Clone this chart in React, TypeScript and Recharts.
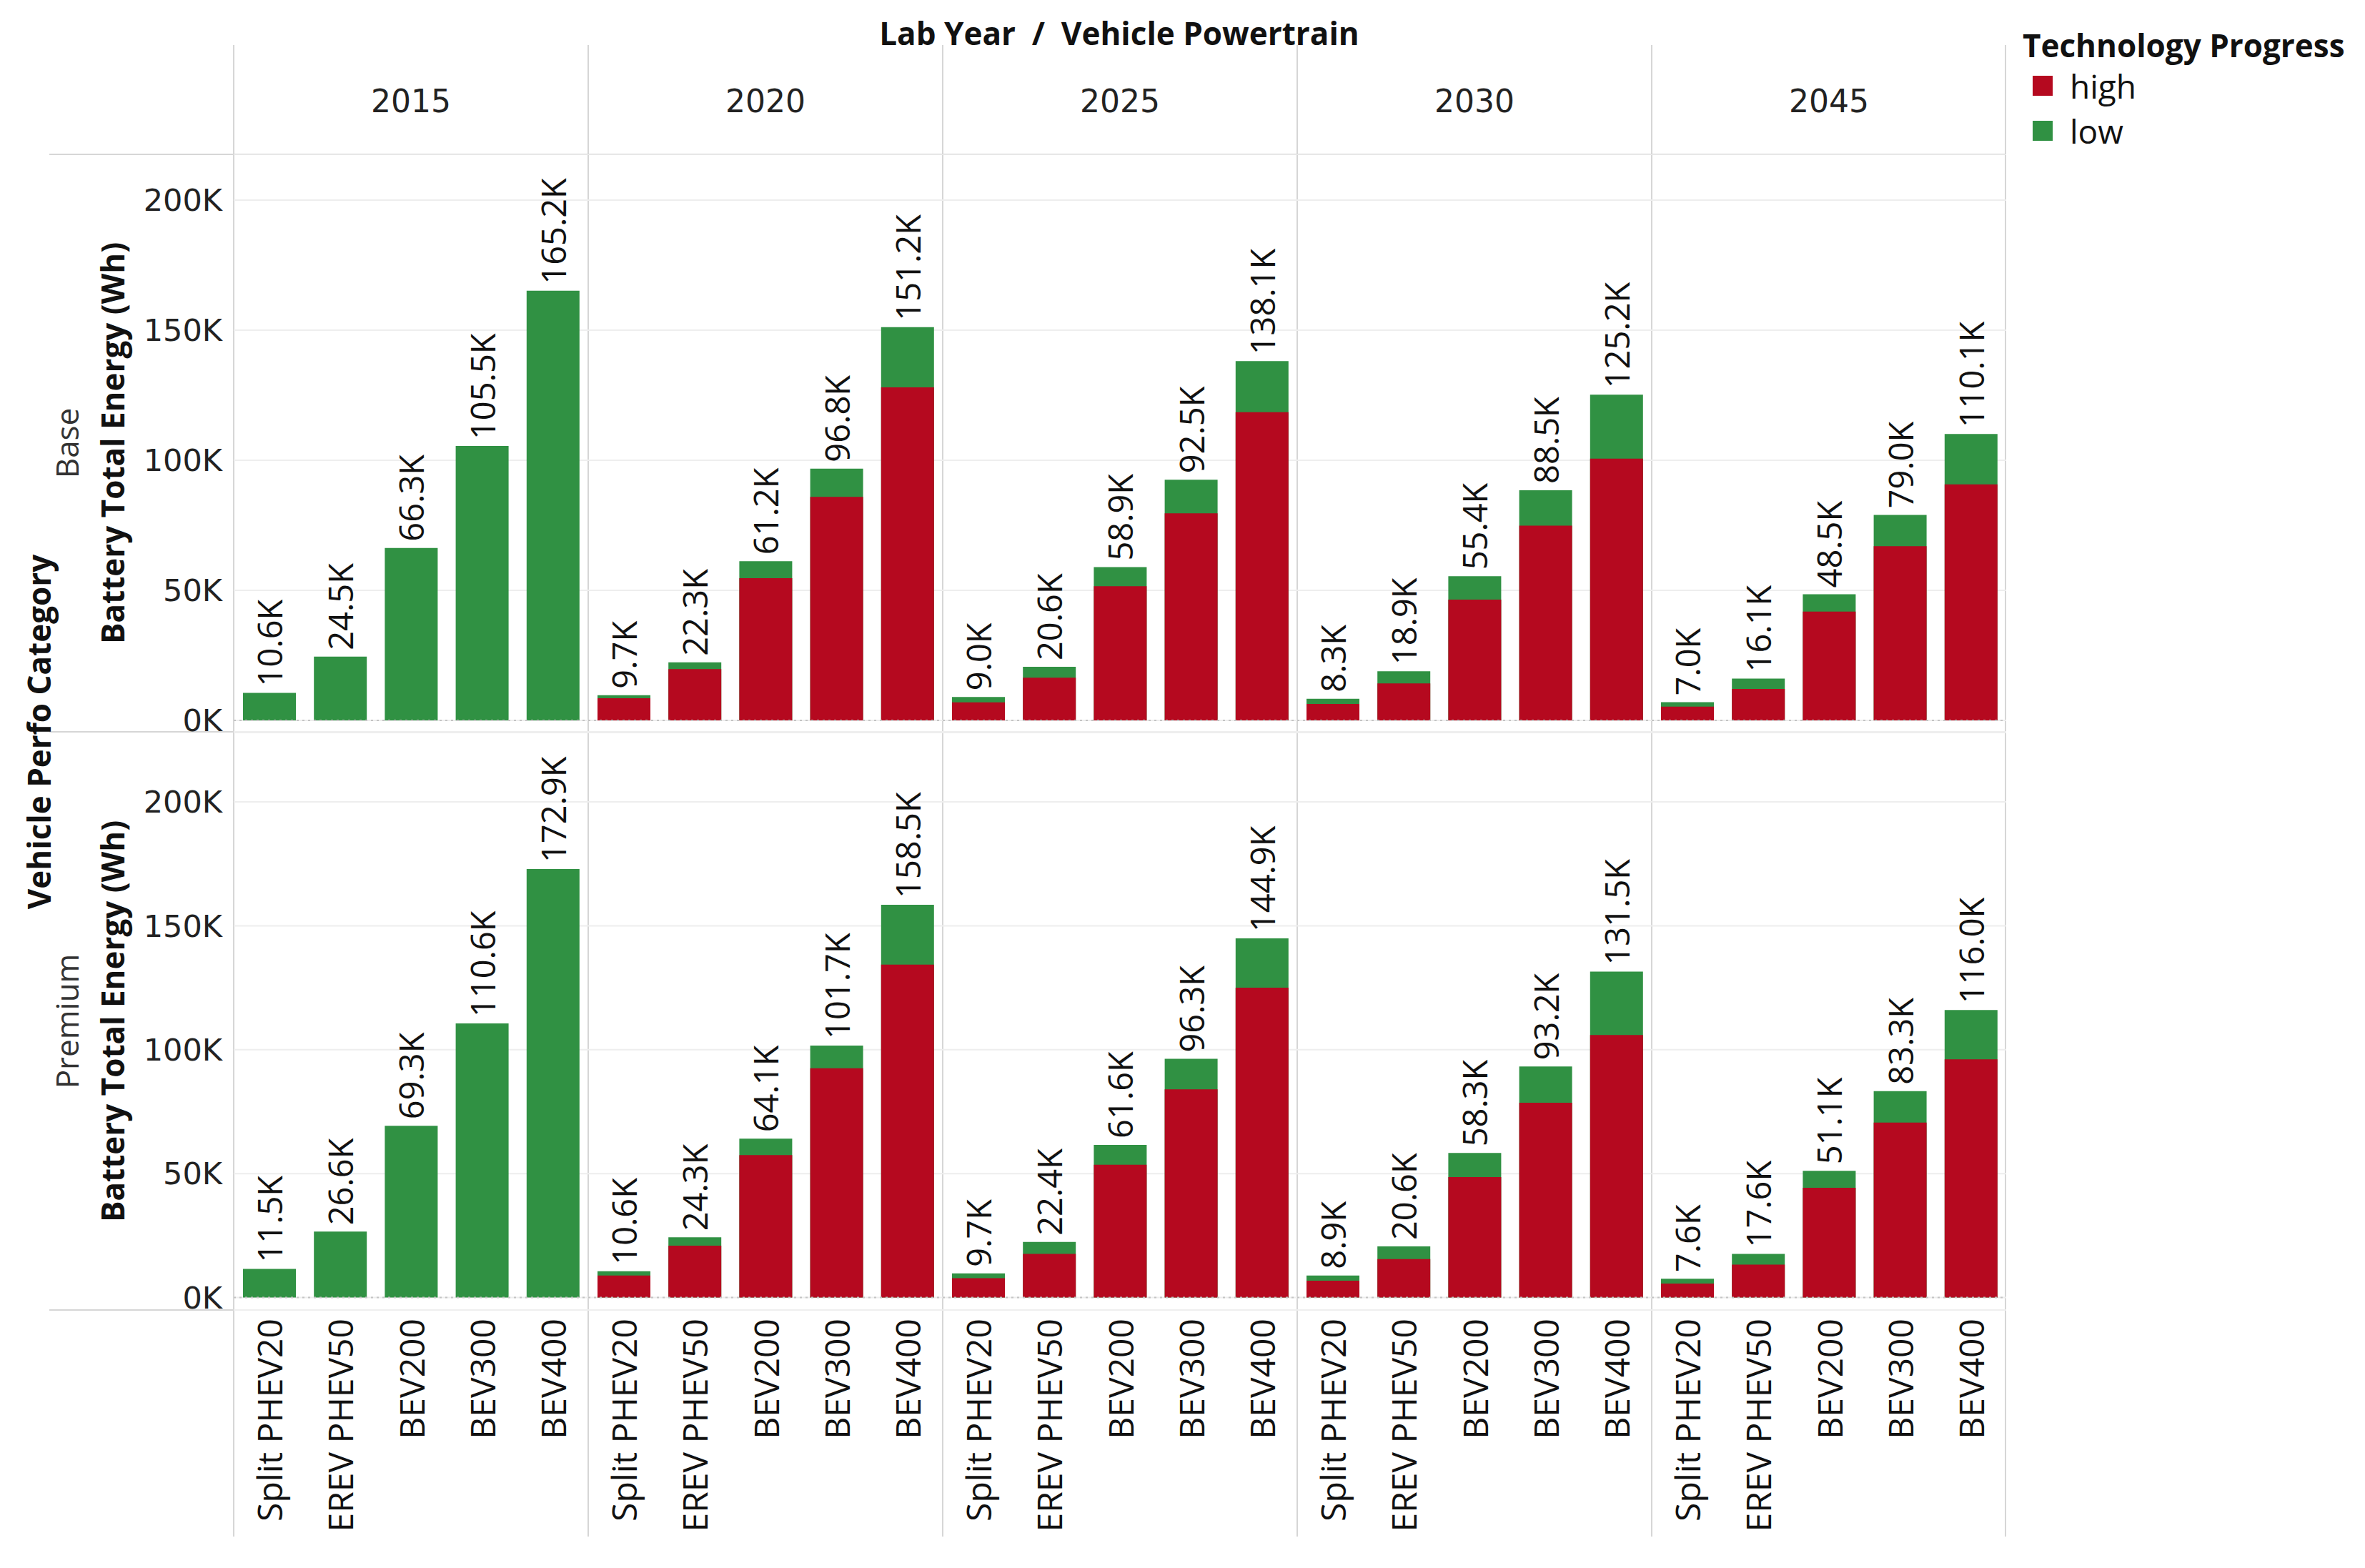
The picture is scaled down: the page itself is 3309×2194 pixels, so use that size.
import React from "react";
import { BarChart, Bar, XAxis, YAxis, CartesianGrid, ReferenceLine, LabelList } from "recharts";

const years = ["2015", "2020", "2025", "2030", "2045"];
const powertrains = ["Split PHEV20", "EREV PHEV50", "BEV200", "BEV300", "BEV400"];
const perfoCategories = ["Base", "Premium"];
const yTicks = [0, 50000, 100000, 150000, 200000];

// Battery total energy (Wh), one list per lab year
const baseLow = [
  [10600, 24500, 66300, 105500, 165200],
  [9700, 22300, 61200, 96800, 151200],
  [9000, 20600, 58900, 92500, 138100],
  [8300, 18900, 55400, 88500, 125200],
  [7000, 16100, 48500, 79000, 110100],
];
const baseHigh = [
  [null, null, null, null, null],
  [8500, 19700, 54700, 85900, 128000],
  [6900, 16400, 51600, 79600, 118500],
  [6300, 14200, 46400, 74900, 100600],
  [5300, 12100, 41800, 67000, 90700],
];
const premiumLow = [
  [11500, 26600, 69300, 110600, 172900],
  [10600, 24300, 64100, 101700, 158500],
  [9700, 22400, 61600, 96300, 144900],
  [8900, 20600, 58300, 93200, 131500],
  [7600, 17600, 51100, 83300, 116000],
];
const premiumHigh = [
  [null, null, null, null, null],
  [8900, 20900, 57500, 92500, 134300],
  [7800, 17600, 53600, 84000, 125000],
  [6800, 15500, 48600, 78600, 105900],
  [5600, 13300, 44300, 70600, 96100],
];

const RED = "#b5091f";
const GREEN = "#309143";
const LINE = "#d6d6d6";
const SANS = '"Open Sans", sans-serif';
const VERD = '"DejaVu Sans", sans-serif';

const colLeft = [327, 823, 1319, 1815, 2311];
const colW = 496;
const rows = [
  { top: 216, height: 808, domain: [-4400, 217600], low: baseLow, high: baseHigh },
  { top: 1025, height: 808, domain: [-5050, 228000], low: premiumLow, high: premiumHigh },
];
const xAxisH = 317;
const yAxisW = 200;
const extraBottom = 30;

const fmtK = (v: number) => `${(v / 1000).toFixed(1)}K`;

const ValueLabel = (props: any) => {
  const { x, y, width, value } = props;
  if (value == null) return null;
  const cx = x + width / 2;
  const cy = y - 9;
  return (
    <text x={cx} y={cy} transform={`rotate(-90, ${cx}, ${cy})`} textAnchor="start"
      dominantBaseline="central" fontFamily={SANS} fontSize={47} fill="#111">
      {fmtK(value)}
    </text>
  );
};

const CategoryTick = (props: any) => {
  const { x, y, payload } = props;
  const ty = y + 12;
  return (
    <text x={x} y={ty} transform={`rotate(-90, ${x}, ${ty})`} textAnchor="end"
      dominantBaseline="central" fontFamily={SANS} fontSize={48} fill="#111">
      {payload.value}
    </text>
  );
};

function Panel({ r, c }: { r: number; c: number }) {
  const row = rows[r];
  const data = powertrains.map((p, i) => ({ name: p, low: row.low[c][i], high: row.high[c][i] }));
  const showY = c === 0;
  const showX = r === 1;
  const left = colLeft[c] - (showY ? yAxisW : 0);
  const width = colW + (showY ? yAxisW : 0);
  const height = row.height + (showX ? xAxisH : extraBottom);
  return (
    <div style={{ position: "absolute", left, top: row.top }}>
      <BarChart width={width} height={height} data={data} barGap={-74}
        margin={{ top: 0, right: 0, bottom: showX ? 0 : extraBottom, left: 0 }}>
        <CartesianGrid vertical={false} stroke="#eeeeee" strokeWidth={2} />
        <XAxis dataKey="name" hide={!showX} height={xAxisH} axisLine={false} tickLine={false}
          tickSize={0} tickMargin={0} interval={0} tick={<CategoryTick />} />
        <YAxis type="number" domain={row.domain} ticks={yTicks} hide={!showY} width={yAxisW}
          axisLine={false} tickLine={false} tickSize={0} tickMargin={16} interval={0}
          tickFormatter={(v: number) => `${v / 1000}K`}
          tick={{ fontFamily: VERD, fontSize: 43, fill: "#222" }} />
        <ReferenceLine y={0} stroke="#c4c4c4" strokeWidth={2} strokeDasharray="3 5" />
        <Bar dataKey="low" fill={GREEN} barSize={74} isAnimationActive={false}>
          <LabelList dataKey="low" content={<ValueLabel />} />
        </Bar>
        <Bar dataKey="high" fill={RED} barSize={74} isAnimationActive={false} />
      </BarChart>
    </div>
  );
}

export default function App() {
  const rowMid = rows.map((row) => row.top + row.height / 2);
  return (
    <div style={{ position: "absolute", left: 0, top: 0, width: 3309, height: 2194, background: "#fff" }}>
      <svg width={3309} height={2194} style={{ position: "absolute", left: 0, top: 0 }}>
        {[327, 823, 1319, 1815, 2311, 2806].map((x) => (
          <line key={x} x1={x} x2={x} y1={63} y2={2150} stroke={LINE} strokeWidth={2} />
        ))}
        {[216, 1024, 1833].map((y) => (
          <line key={y} x1={69} x2={2806} y1={y} y2={y} stroke={LINE} strokeWidth={2} />
        ))}
        <text x={1566} y={46} textAnchor="middle" dominantBaseline="central" fontFamily={SANS}
          fontWeight={700} fontSize={44} fill="#111" style={{ whiteSpace: "pre" }}>
          {"Lab Year  /  Vehicle Powertrain"}
        </text>
        {years.map((yr, i) => (
          <text key={yr} x={colLeft[i] + colW / 2} y={141} textAnchor="middle" dominantBaseline="central"
            fontFamily={VERD} fontSize={44} fill="#222">{yr}</text>
        ))}
        <text x={54} y={1024} transform="rotate(-90, 54, 1024)" textAnchor="middle" dominantBaseline="central"
          fontFamily={SANS} fontWeight={700} fontSize={44} fill="#111">Vehicle Perfo Category</text>
        {perfoCategories.map((cat, i) => (
          <g key={cat}>
            <text x={93} y={rowMid[i]} transform={`rotate(-90, 93, ${rowMid[i]})`} textAnchor="middle"
              dominantBaseline="central" fontFamily={SANS} fontSize={44} fill="#333">{cat}</text>
            <text x={157} y={rowMid[i]} transform={`rotate(-90, 157, ${rowMid[i]})`} textAnchor="middle"
              dominantBaseline="central" fontFamily={SANS} fontWeight={700} fontSize={44} fill="#111">
              Battery Total Energy (Wh)
            </text>
          </g>
        ))}
        <text x={2830} y={63} dominantBaseline="central" fontFamily={SANS} fontWeight={700} fontSize={44} fill="#111">
          Technology Progress
        </text>
        <rect x={2844} y={106} width={28} height={28} fill={RED} />
        <text x={2896} y={120} dominantBaseline="central" fontFamily={SANS} fontSize={46} fill="#111">high</text>
        <rect x={2844} y={169} width={28} height={28} fill={GREEN} />
        <text x={2896} y={183} dominantBaseline="central" fontFamily={SANS} fontSize={46} fill="#111">low</text>
      </svg>
      {rows.map((_, r) => colLeft.map((__, c) => <Panel key={`${r}-${c}`} r={r} c={c} />))}
    </div>
  );
}
